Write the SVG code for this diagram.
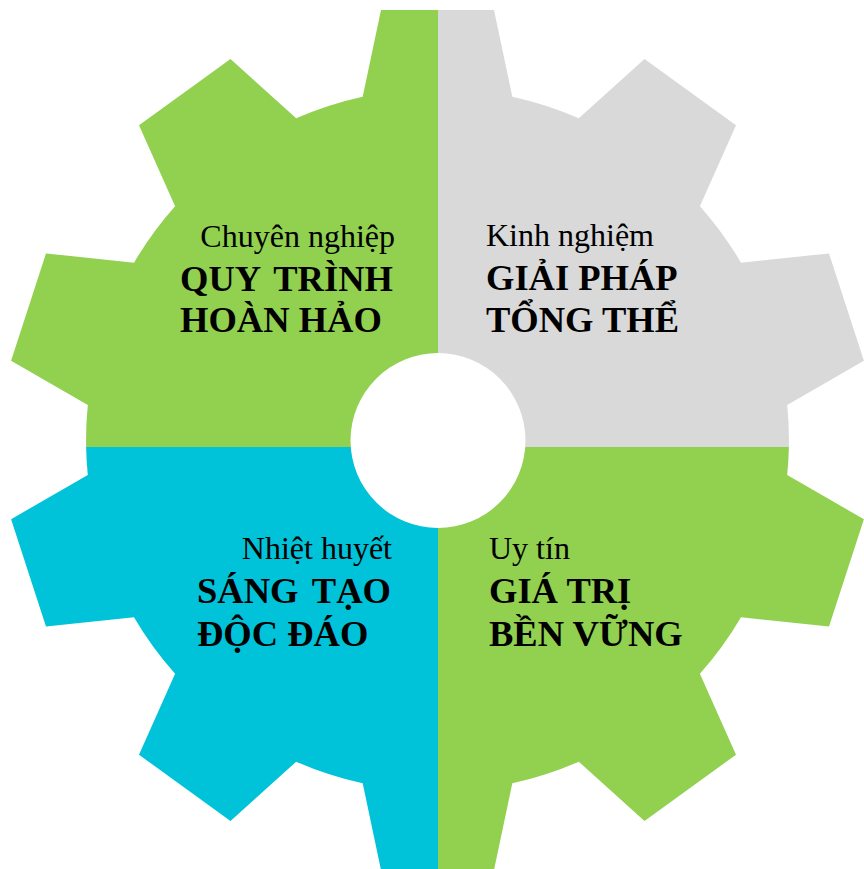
<svg xmlns="http://www.w3.org/2000/svg" xmlns:xlink="http://www.w3.org/1999/xlink" width="864" height="869" viewBox="0 0 864 869">
<style>
.reg{font-family:"Liberation Serif","Times New Roman",serif;font-size:32px;fill:#000}
.bold{font-family:"Liberation Serif","Times New Roman",serif;font-size:36.5px;font-weight:bold;fill:#000}
</style>
<defs>
<path id="gear" d="M362.7 96.7 L381 10 L494 10 L512.3 96.7 A351.4 351.4 0 0 1 578.8 118.3 L644.5 58.9 L736 125.3 L699.9 206.2 A351.4 351.4 0 0 1 741 262.7 L829 253.4 L863.9 360.8 L787.2 405 A351.4 351.4 0 0 1 787.2 475 L863.9 519.2 L829 626.6 L741 617.3 A351.4 351.4 0 0 1 699.9 673.8 L736 754.7 L644.5 821.1 L578.8 761.7 A351.4 351.4 0 0 1 512.3 783.3 L494 870 L381 870 L362.7 783.3 A351.4 351.4 0 0 1 296.2 761.7 L230.5 821.1 L139 754.7 L175.1 673.8 A351.4 351.4 0 0 1 134 617.3 L46 626.6 L11.1 519.2 L87.8 475 A351.4 351.4 0 0 1 87.8 405 L11.1 360.8 L46 253.4 L134 262.7 A351.4 351.4 0 0 1 175.1 206.2 L139 125.3 L230.5 58.9 L296.2 118.3 A351.4 351.4 0 0 1 362.7 96.7 Z"/>
<clipPath id="cTL"><rect x="0" y="0" width="438" height="447"/></clipPath>
<clipPath id="cTR"><rect x="438" y="0" width="426" height="447"/></clipPath>
<clipPath id="cBL"><rect x="0" y="447" width="438" height="422"/></clipPath>
<clipPath id="cBR"><rect x="438" y="447" width="426" height="422"/></clipPath>
</defs>
<rect width="864" height="869" fill="#fff"/>
<g id="q-tl">
<use xlink:href="#gear" href="#gear" fill="#92D050" clip-path="url(#cTL)"/>
<text class="reg" x="395" y="247" text-anchor="end">Chuyên nghiệp</text>
<text class="bold" x="180" y="291" word-spacing="5">QUY TRÌNH</text>
<text class="bold" x="180" y="332">HOÀN HẢO</text>
</g>
<g id="q-tr">
<use xlink:href="#gear" href="#gear" fill="#D9D9D9" clip-path="url(#cTR)"/>
<text class="reg" x="486" y="246">Kinh nghiệm</text>
<text class="bold" x="486" y="290">GIẢI PHÁP</text>
<text class="bold" x="486" y="332">TỔNG THỂ</text>
</g>
<g id="q-bl">
<use xlink:href="#gear" href="#gear" fill="#00C2D8" clip-path="url(#cBL)"/>
<text class="reg" x="392" y="559" text-anchor="end">Nhiệt huyết</text>
<text class="bold" x="197" y="603" word-spacing="5">SÁNG TẠO</text>
<text class="bold" x="197" y="646">ĐỘC ĐÁO</text>
</g>
<g id="q-br">
<use xlink:href="#gear" href="#gear" fill="#92D050" clip-path="url(#cBR)"/>
<text class="reg" x="489" y="559">Uy tín</text>
<text class="bold" x="489" y="603">GIÁ TRỊ</text>
<text class="bold" x="489" y="646">BỀN VỮNG</text>
</g>
<g id="hole">
<circle cx="438" cy="440.5" r="87.5" fill="#fff"/>
</g>
<g id="connectors"/>
</svg>
